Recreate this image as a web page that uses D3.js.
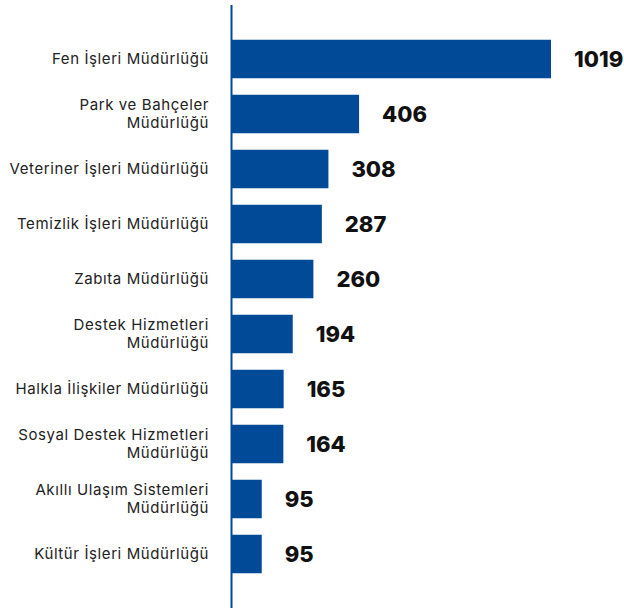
<!DOCTYPE html>
<html>
<head>
<meta charset="utf-8">
<script src="https://cdn.jsdelivr.net/npm/d3@7"></script>
<style>
  body { margin: 0; background: #fff; }
  .cat { font-family: Inter, sans-serif; font-size: 15px; letter-spacing: 0.6px; fill: #222; }
  .val { font-family: Inter, sans-serif; font-size: 22px; font-weight: 800; fill: #111; }
</style>
</head>
<body>
<script>
var width = 624,
    height = 611;

// categories ("|" marks a line break in the label)
var categories = [
  "Fen İşleri Müdürlüğü",
  "Park ve Bahçeler|Müdürlüğü",
  "Veteriner İşleri Müdürlüğü",
  "Temizlik İşleri Müdürlüğü",
  "Zabıta Müdürlüğü",
  "Destek Hizmetleri|Müdürlüğü",
  "Halkla İlişkiler Müdürlüğü",
  "Sosyal Destek Hizmetleri|Müdürlüğü",
  "Akıllı Ulaşım Sistemleri|Müdürlüğü",
  "Kültür İşleri Müdürlüğü"
];
var values = [1019, 406, 308, 287, 260, 194, 165, 164, 95, 95];

var data = categories.map(function(c, i){ return {name: c, value: values[i]}; });

var svg = d3.select("body").append("svg").attr("width", width).attr("height", height);

var x = d3.scaleLinear().domain([0, 1019]).range([232, 551]);
var y = d3.scaleBand().domain(categories).range([31.5, 581.5]).paddingInner(0.3).paddingOuter(0.15);

// bars
svg.append("g").selectAll("rect")
    .data(data)
  .enter().append("rect")
    .attr("x", x(0))
    .attr("y", function(d){ return y(d.name); })
    .attr("width", function(d){ return x(d.value) - x(0); })
    .attr("height", y.bandwidth())
    .attr("fill", "#004a97");

// axis line
svg.append("line")
    .attr("x1", x(0) - 0.5).attr("x2", x(0) - 0.5)
    .attr("y1", 5).attr("y2", 608)
    .attr("stroke", "#004a97")
    .attr("stroke-width", 2);

// category labels
var labels = svg.append("g").selectAll("text")
    .data(data)
  .enter().append("text")
    .attr("class", "cat")
    .attr("text-anchor", "end")
    .attr("y", function(d){ return y(d.name) + y.bandwidth() / 2; });

labels.each(function(d){
  var lines = d.name.split("|");
  var t = d3.select(this);
  lines.forEach(function(l, i){
    t.append("tspan")
        .attr("x", 209)
        .attr("dy", i == 0 ? ((-(lines.length - 1) * 18 / 2) + 5) + "px" : "18px")
        .text(l);
  });
});

// value labels
svg.append("g").selectAll("text")
    .data(data)
  .enter().append("text")
    .attr("class", "val")
    .attr("x", function(d){ return x(d.value) + 23; })
    .attr("y", function(d){ return y(d.name) + y.bandwidth() / 2 + 8; })
    .text(function(d){ return d.value; });
</script>
</body>
</html>
